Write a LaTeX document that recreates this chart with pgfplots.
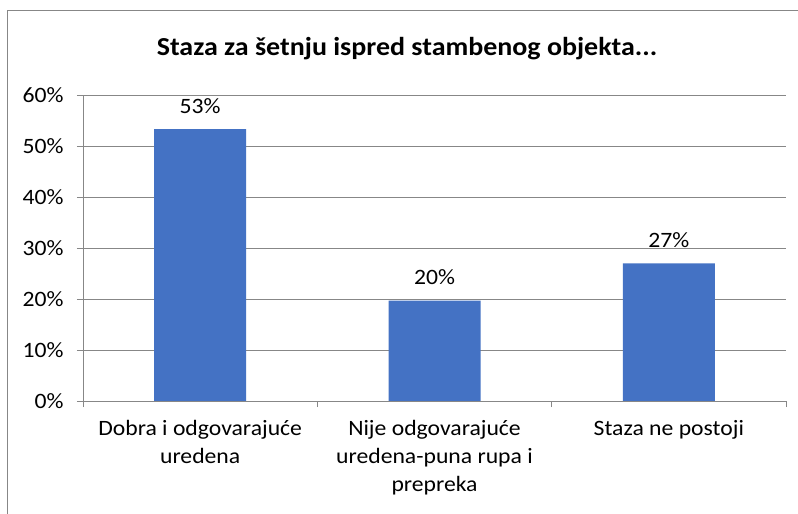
\documentclass[border=0pt]{standalone}
\usepackage{fontspec}
\setmainfont{Carlito}[FakeStretch=1.08]
\usepackage{pgfplots}
\pgfplotsset{compat=1.18}
\definecolor{barblue}{HTML}{4472C4}
\definecolor{gridgray}{HTML}{878787}
\begin{document}
\begin{tikzpicture}
\path[use as bounding box] (0,0) rectangle (798bp,514bp);
\fill[white] (0,0) rectangle (798bp,514bp);
\draw[gridgray, line width=1bp] (7bp,0) -- (7bp,503bp) -- (798bp,503bp);
\node[anchor=base, font=\fontsize{26}{31}\selectfont\bfseries] at (407bp,458bp) {Staza za šetnju ispred stambenog objekta...};
\begin{axis}[
 at={(83bp,113bp)}, anchor=south west,
 scale only axis, width=703bp, height=306bp,
 xmin=0.5, xmax=3.5, ymin=0, ymax=60,
 axis x line*=bottom, axis y line*=left,
 axis line style={gridgray, line width=0.8bp, -},
 ytick={0,10,...,60},
 yticklabel={\pgfmathprintnumber{\tick}\%},
 /pgf/number format/assume math mode=true,
 ymajorgrids, xmajorgrids=false,
 grid style={gridgray, line width=0.8bp},
 tick align=outside,
 major tick length=6bp,
 tick style={gridgray, line width=0.8bp},
 yticklabel style={font=\fontsize{22}{26}\selectfont, text=black, xshift=-10bp},
 xtick={0.5,1.5,2.5,3.5},
 xticklabels={},
 extra x ticks={1,2,3},
 extra x tick labels={{Dobra i odgovarajuće\\uredena},{Nije odgovarajuće\\uredena-puna rupa i\\prepreka},{Staza ne postoji}},
 extra x tick style={major tick length=0pt, tick style={draw=none},
   tick label style={align=center, anchor=north, yshift=-16bp, font=\fontsize{22}{28}\selectfont, text=black}},
]
\addplot[ybar, bar width=92bp, fill=barblue, draw=none,
  nodes near coords, point meta=explicit symbolic,
  nodes near coords style={anchor=base, yshift=16bp, font=\fontsize{22}{26}\selectfont, text=black}]
  coordinates {(1,53.3)[53\%] (2,19.7)[20\%] (3,27.0)[27\%]};
\end{axis}
\end{tikzpicture}
\end{document}
